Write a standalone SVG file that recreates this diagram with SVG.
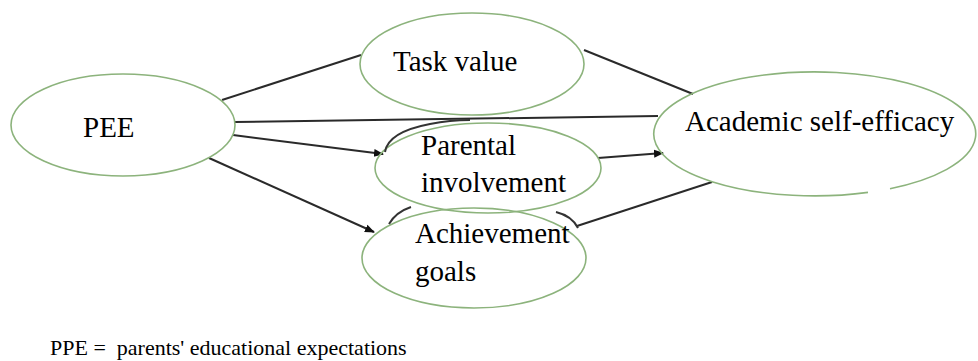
<svg xmlns="http://www.w3.org/2000/svg" width="978" height="361" viewBox="0 0 978 361">
<style>
.node{fill:none;stroke:#8cb37c;stroke-width:1.6}
.lbl{font-family:'Liberation Serif','Times New Roman',serif;font-size:29px;fill:#000}
.edge{stroke:#2a2a2a;stroke-width:2;fill:none}
.art{stroke:#333;stroke-width:2;fill:none}
.leg{font-family:'Liberation Serif','Times New Roman',serif;font-size:22px;fill:#000}
</style>
<defs>
<marker id="ah" viewBox="0 0 10 10" refX="9" refY="5" markerWidth="5" markerHeight="5" orient="auto" markerUnits="strokeWidth">
<path d="M0,1 L10,5 L0,9 z" fill="#111"/>
</marker>
</defs>
<rect width="978" height="361" fill="#fff"/>
<g id="connectors">
<line class="edge" x1="222" y1="100" x2="361" y2="55"/>
<line class="edge" x1="584" y1="50" x2="693" y2="94"/>
<line class="edge" x1="235" y1="122" x2="658" y2="116"/>
<line class="edge" x1="233" y1="135" x2="383" y2="154" marker-end="url(#ah)"/>
<line class="edge" x1="209" y1="158" x2="374" y2="232" marker-end="url(#ah)"/>
<line class="edge" x1="598" y1="158" x2="663" y2="153" marker-end="url(#ah)"/>
<line class="edge" x1="577" y1="226" x2="712" y2="182"/>
</g>
<g id="pee">
<ellipse class="node" cx="123" cy="125" rx="112" ry="51" fill="#fff"/>
<text class="lbl" x="83" y="137">PEE</text>
</g>
<g id="task-value">
<ellipse class="node" cx="472" cy="64" rx="112" ry="51"/>
<text class="lbl" x="393" y="71">Task value</text>
</g>
<g id="parental-involvement">
<ellipse class="node" cx="488" cy="168" rx="113" ry="45"/>
<path class="art" d="M385,152 Q388,132 430,124 Q450,120 470,120"/>
<text class="lbl" x="421" y="155">Parental</text>
<text class="lbl" x="421" y="192">involvement</text>
</g>
<g id="achievement-goals">
<ellipse class="node" cx="474" cy="258" rx="112" ry="50"/>
<path class="art" d="M389,224 Q396,212 411,207"/>
<path class="art" d="M556,212 Q572,216 578,228"/>
<text class="lbl" x="415" y="243">Achievement</text>
<text class="lbl" x="415" y="281">goals</text>
</g>
<g id="academic-self-efficacy">
<path class="node" d="M868,192.4 A161,62 0 1 1 890,188.7"/>
<text class="lbl" x="685" y="131">Academic self-efficacy</text>
</g>
<text class="leg" x="50" y="355" xml:space="preserve">PPE =  parents' educational expectations</text>
</svg>
